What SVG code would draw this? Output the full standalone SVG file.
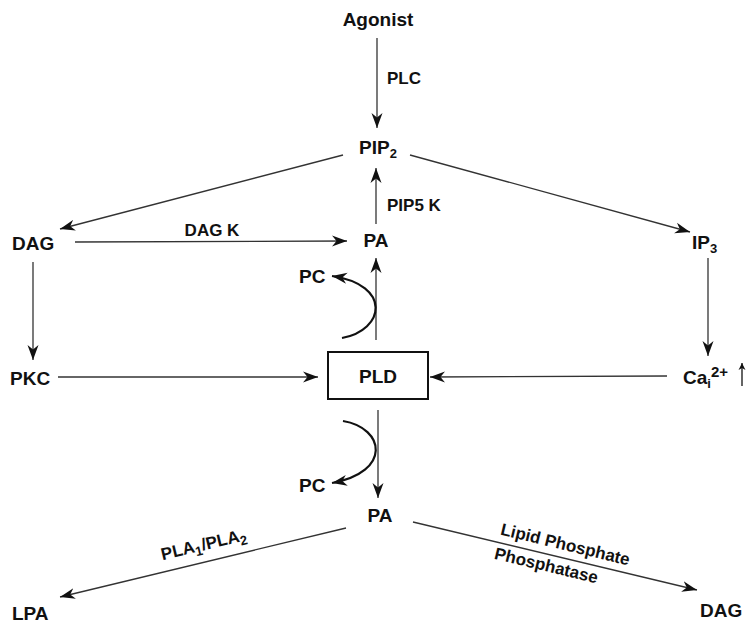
<svg xmlns="http://www.w3.org/2000/svg" width="747" height="625" viewBox="0 0 747 625">
<style>
text{font-family:"Liberation Sans",Arial,sans-serif;font-weight:bold;fill:#111}
.n{font-size:19px}
.l{font-size:17px}
.c{text-anchor:middle}
.ln{stroke:#333;stroke-width:1.3;fill:none}
.cv{stroke:#111;stroke-width:2.2;fill:none}
.sub{font-size:13px}
</style>
<defs>
<marker id="ah" markerUnits="userSpaceOnUse" markerWidth="16" markerHeight="12" refX="15" refY="6" orient="auto">
<path d="M0,0.5 L15,6 L0,11.5 L4.5,6 z" fill="#111"/>
</marker>
<marker id="sm" markerUnits="userSpaceOnUse" markerWidth="8" markerHeight="8" refX="7" refY="4" orient="auto">
<path d="M0,0.5 L7,4 L0,7.5 L2,4 z" fill="#111"/>
</marker>
</defs>
<rect width="747" height="625" fill="#fff"/>
<g id="connectors">
<line class="ln" x1="377" y1="38" x2="377" y2="128" marker-end="url(#ah)"/>
<line class="ln" x1="343" y1="155" x2="60" y2="229" marker-end="url(#ah)"/>
<line class="ln" x1="410" y1="155" x2="690" y2="232" marker-end="url(#ah)"/>
<line class="ln" x1="376" y1="224" x2="376" y2="168" marker-end="url(#ah)"/>
<line class="ln" x1="75" y1="242" x2="347" y2="241" marker-end="url(#ah)"/>
<line class="ln" x1="33" y1="262" x2="33" y2="360" marker-end="url(#ah)"/>
<line class="ln" x1="708" y1="258" x2="708" y2="356" marker-end="url(#ah)"/>
<line class="ln" x1="58" y1="377" x2="318" y2="377" marker-end="url(#ah)"/>
<line class="ln" x1="667" y1="376" x2="430" y2="377" marker-end="url(#ah)"/>
<line class="ln" x1="376" y1="340" x2="376" y2="258" marker-end="url(#ah)"/>
<line class="ln" x1="378" y1="410" x2="378" y2="498" marker-end="url(#ah)"/>
<line class="ln" x1="346" y1="528" x2="60" y2="597" marker-end="url(#ah)"/>
<line class="ln" x1="413" y1="522" x2="697" y2="590" marker-end="url(#ah)"/>
<path class="cv" d="M342,338 C385,330 392,285 332,276" marker-end="url(#ah)"/>
<path class="cv" d="M343,421 C385,428 392,472 332,483" marker-end="url(#ah)"/>
<text class="l" x="387" y="84">PLC</text>
<text class="l" x="387" y="211">PIP5 K</text>
<text class="l c" x="212" y="236">DAG K</text>
<text class="l c" transform="translate(205,550) rotate(-13.5)">PLA<tspan class="sub" dy="4">1</tspan><tspan dy="-4">/PLA</tspan><tspan class="sub" dy="4">2</tspan></text>
<text class="l c" transform="translate(564,550) rotate(13.5)">Lipid Phosphate</text>
<text class="l c" transform="translate(545,571) rotate(13.5)">Phosphatase</text>
</g>
<g id="agonist"><text class="n c" x="378" y="26">Agonist</text></g>
<g id="pip2"><text class="n c" x="378" y="154">PIP<tspan class="sub" dy="4">2</tspan></text></g>
<g id="dag1"><text class="n" x="12" y="250">DAG</text></g>
<g id="pa1"><text class="n c" x="376" y="247">PA</text></g>
<g id="ip3"><text class="n" x="692" y="249">IP<tspan class="sub" dy="4">3</tspan></text></g>
<g id="pc1"><text class="n" x="299" y="283">PC</text></g>
<g id="pkc"><text class="n" x="10" y="385">PKC</text></g>
<g id="pld"><rect x="328" y="352" width="100" height="47" fill="none" stroke="#111" stroke-width="2"/><text class="n c" x="378" y="383">PLD</text></g>
<g id="ca"><text class="n" x="683" y="384">Ca<tspan class="sub" dy="4">i</tspan><tspan style="font-size:15px" dy="-11">2+</tspan></text><line x1="742" y1="386" x2="742" y2="363" stroke="#111" stroke-width="1.3" marker-end="url(#sm)"/></g>
<g id="pc2"><text class="n" x="299" y="492">PC</text></g>
<g id="pa2"><text class="n c" x="380" y="522">PA</text></g>
<g id="lpa"><text class="n" x="12" y="620">LPA</text></g>
<g id="dag2"><text class="n" x="700" y="617">DAG</text></g>
</svg>
